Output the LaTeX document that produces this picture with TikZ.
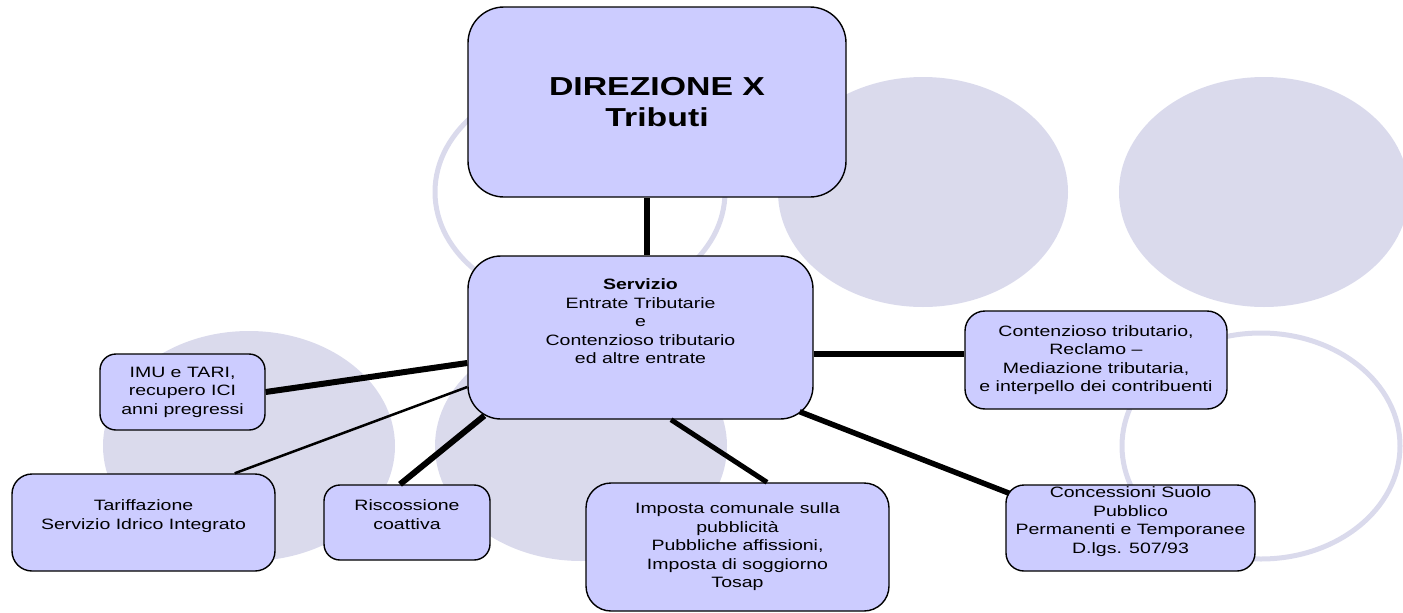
\documentclass[tikz,border=0pt]{standalone}
\usepackage{fontspec}
\setmainfont{Liberation Sans}[FakeStretch=1.3]
\usepackage{tikz}
\usetikzlibrary{arrows.meta,
	backgrounds,
	calc,
	shapes}

\definecolor{boxfill}{RGB}{204,204,255}
\definecolor{blob}{RGB}{218,218,236}

\begin{document}
\begin{tikzpicture}[x=1pt,y=-1pt]
    \tikzstyle{box}=[draw=black,line width=1.4pt,fill=boxfill,rounded corners=18pt,align=center,inner sep=0pt,font=\fontsize{15}{18.5}\selectfont]
    \tikzstyle{disc}=[fill=blob]
    \tikzstyle{ring}=[draw=blob,line width=5pt]
    \tikzstyle{link}=[line width=6pt]
    \useasboundingbox (0,0) rectangle (1403,613);
    \draw[ring] (580,192) ellipse [x radius=145, y radius=113];
    \fill[disc] (923,192) ellipse [x radius=145, y radius=115];
    \fill[disc] (1264,192) ellipse [x radius=145, y radius=115];
    \fill[disc] (249,446) ellipse [x radius=146, y radius=115];
    \fill[disc] (581,446) ellipse [x radius=146, y radius=115];
    \draw[ring] (1261,446) ellipse [x radius=139, y radius=113];
    \node[box,minimum width=378pt,minimum height=190pt,rounded corners=36pt,font=\fontsize{26}{31}\selectfont\bfseries] (d_1) at (657,102) {DIREZIONE X\\Tributi};
    \node[box,minimum width=345pt,minimum height=163pt,rounded corners=33pt] (s_1) at (640.5,337.5) {\textbf{Servizio}\\Entrate Tributarie\\e\\Contenzioso tributario\\ed altre entrate\\[14pt]};
    \node[box,minimum width=262pt,minimum height=98pt,rounded corners=20pt] (u_1) at (1096,360) {Contenzioso tributario,\\Reclamo –\\Mediazione tributaria,\\e interpello dei contribuenti};
    \node[box,minimum width=249pt,minimum height=86pt] (u_2) at (1130.5,528) {Concessioni Suolo\\Pubblico\\Permanenti e Temporanee\\D.lgs. 507/93\\[-2.5pt]};
    \node[box,minimum width=303pt,minimum height=128pt,rounded corners=25pt] (u_3) at (737.5,547) {Imposta comunale sulla\\pubblicità\\Pubbliche affissioni,\\Imposta di soggiorno\\Tosap};
    \node[box,minimum width=166pt,minimum height=75pt,rounded corners=16pt] (u_4) at (407,522.5) {Riscossione\\coattiva\\[-2.5pt]};
    \node[box,minimum width=263pt,minimum height=97pt,rounded corners=20pt] (u_5) at (143.5,522.5) {Tariffazione\\Servizio Idrico Integrato\\[-2.5pt]};
    \node[box,minimum width=165pt,minimum height=76pt,rounded corners=16pt] (u_6) at (182.5,392) {IMU e TARI,\\recupero ICI\\anni pregressi};
    \draw[link,line width=6.5pt] ([xshift=-10pt]d_1.south) -- ([xshift=6.5pt]s_1.north);
    \draw[link] ([yshift=-16.5pt]s_1.east) -- ([yshift=6pt]u_1.west);
    \draw[link,line width=5.5pt] ([shift={(-14pt,8pt)}]s_1.south east) -- ([shift={(4pt,-9pt)}]u_2.north west);
    \draw[link,line width=5pt] ([xshift=30.5pt]s_1.south) -- ([xshift=29.5pt]u_3.north);
    \draw[link] ([shift={(17pt,4pt)}]s_1.south west) -- ([xshift=-7pt]u_4.north);
    \draw[link,line width=2.5pt] ([yshift=-49.5pt]s_1.west) -- ([xshift=-41pt]u_5.north east);
    \draw[link] ([yshift=-25.5pt]s_1.west) -- (u_6.east);
  \end{tikzpicture}
\end{document}
